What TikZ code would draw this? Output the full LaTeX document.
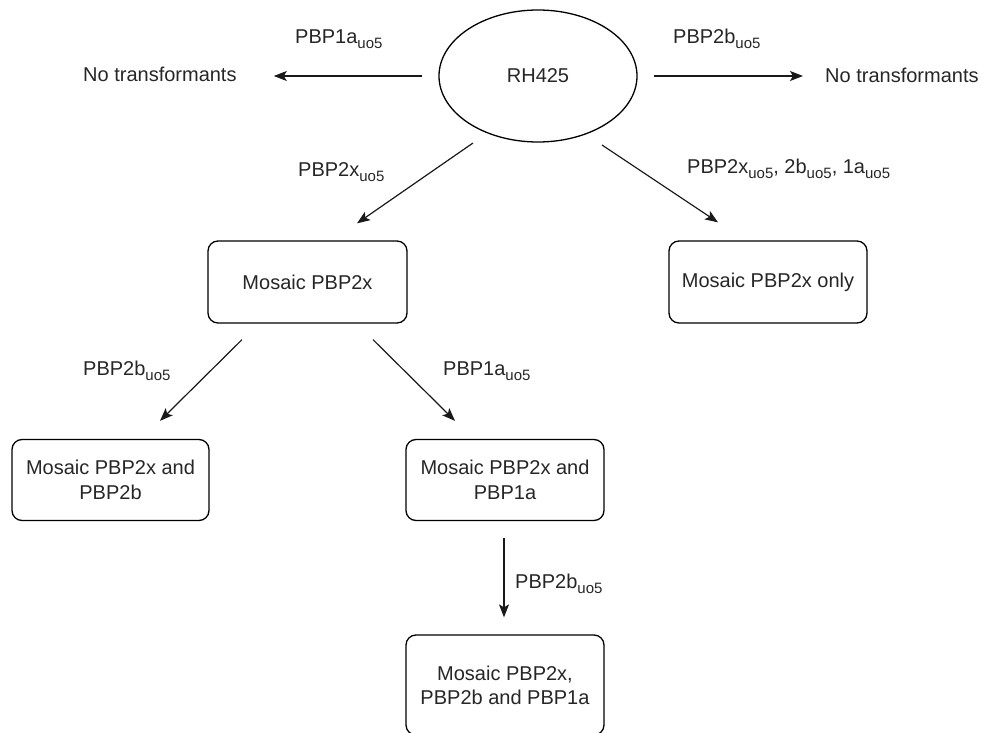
\documentclass[tikz,border=0pt]{standalone}
\usepackage{fontspec}
\setmainfont{Liberation Sans}
\usetikzlibrary{shapes.geometric,arrows.meta}
\newcommand\uosub{\raisebox{-5pt}{\fontsize{15}{15}\selectfont uo5}}
\begin{document}
\begin{tikzpicture}[x=1pt,y=-1pt,
  every node/.style={font=\fontsize{20}{24}\selectfont, text=black!85},
  box/.style={draw=black, rounded corners=10pt, line width=1.3pt, align=center, inner sep=0pt},
  arr/.style={line width=1.2pt, draw=black!90, -{Stealth[length=13pt,width=10pt,inset=3pt]}},
  lbl/.style={anchor=base west, inner sep=0pt}]
\useasboundingbox (0,0) rectangle (997,733);
\node[draw=black, ellipse, line width=1.3pt, minimum width=198pt, minimum height=132pt, inner sep=0pt] (rh) at (538,76) {RH425};
\node[lbl] (noL) at (83,82) {No transformants};
\node[lbl] (noR) at (825,83) {No transformants};
\node[box, minimum width=199pt, minimum height=82pt] (A) at (307.5,282) {Mosaic PBP2x};
\node[box, minimum width=198pt, minimum height=82pt] (B) at (768,282) {Mosaic PBP2x only};
\node[box, minimum width=197pt, minimum height=81pt] (C) at (110.5,480) {Mosaic PBP2x and\\[1pt]PBP2b};
\node[box, minimum width=198pt, minimum height=81pt] (D) at (505,480) {Mosaic PBP2x and\\[1pt]PBP1a};
\node[box, minimum width=198pt, minimum height=100pt] (E) at (505,685) {Mosaic PBP2x,\\PBP2b and PBP1a};
\node[lbl] (l1) at (295,44) {PBP1a\uosub};
\node[lbl] (l2) at (673,44) {PBP2b\uosub};
\node[lbl] (l3) at (298,177) {PBP2x\uosub};
\node[lbl] (l4) at (687,174) {PBP2x\uosub, 2b\uosub, 1a\uosub};
\node[lbl] (l5) at (83,375) {PBP2b\uosub};
\node[lbl] (l6) at (443,375) {PBP1a\uosub};
\node[lbl] (l7) at (515,588) {PBP2b\uosub};
\draw[arr, shorten <=16pt, shorten >=37pt] (rh.west) -- (rh.west -| noL.east);
\draw[arr, shorten <=16pt, shorten >=22pt] (rh.east) -- (rh.east -| noR.west);
\draw[arr] ([shift={(-65,67)}]rh.center) -- ([shift={(49.5,-17)}]A.north);
\draw[arr] ([shift={(64,69)}]rh.center) -- ([shift={(-50,-18)}]B.north);
\draw[arr] ([shift={(-65.5,16)}]A.south) -- ([shift={(49.5,-18)}]C.north);
\draw[arr] ([shift={(65.5,16)}]A.south) -- ([shift={(-50,-18)}]D.north);
\draw[arr] ([shift={(-1,17)}]D.south) -- ([shift={(-1,-17)}]E.north);
\end{tikzpicture}
\end{document}
